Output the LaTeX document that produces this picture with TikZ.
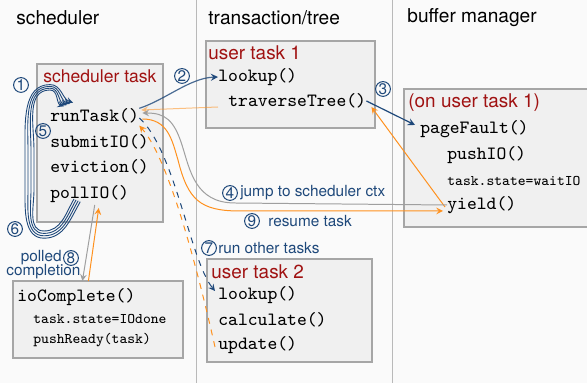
\documentclass[tikz,border=0pt]{standalone}
\usepackage{fontspec}
\setmainfont{TeX Gyre Heros}
\usepackage{tikz}
\usepackage{xcolor}
\usetikzlibrary{arrows, positioning, calc}
\definecolor{schedblue}{RGB}{30,72,122}
\definecolor{taskred}{RGB}{160,18,18}
\definecolor{resumeorange}{RGB}{255,145,30}

\begin{document}
\begin{tikzpicture}[x=0.5bp,y=-0.5bp,
  hdr/.style={anchor=west,inner sep=0,font=\fontsize{9.6}{11}\selectfont},
  title/.style={anchor=west,inner sep=0,text=taskred,font=\fontsize{9.5}{11}\selectfont},
  code/.style={anchor=west,inner sep=0,font=\fontsize{9.4}{11}\ttfamily},
  smallcode/.style={anchor=west,inner sep=0,font=\fontsize{7.4}{9}\ttfamily},
  lbl/.style={inner sep=0,text=schedblue,font=\fontsize{7.7}{9}\selectfont},
  num/.style={circle,draw=schedblue,text=schedblue,inner sep=0,minimum size=7.4bp,line width=0.5pt,font=\fontsize{7.7}{9}\selectfont},
  box/.style={draw=gray!70,fill=gray!12,line width=0.6pt},
  bluearr/.style={-stealth,draw=schedblue,line width=0.6pt},
  orangearr/.style={-stealth,draw=resumeorange,line width=0.5pt},
  grayarr/.style={-stealth,draw=gray!75,line width=0.5pt}]
\fill[gray!4] (0,0) rectangle (587,383);
\useasboundingbox (0,0) rectangle (587,383);
% columns
\draw[gray!55,line width=0.5pt] (196,0) -- (196,383) (392,0) -- (392,383);
\node[hdr] (schedhdr) at (16,18) {scheduler};
\node[hdr] (treehdr) at (208,18) {transaction/tree};
\node[hdr] (bufhdr) at (407,18) {buffer manager};

% boxes
\draw[box] (37,64) rectangle (163,222);
\draw[box] (206,41) rectangle (375,128);
\draw[box] (404,89) rectangle (592,227);
\draw[box] (13,281) rectangle (183,358);
\draw[box] (207,259) rectangle (372,362);

\node[title,font=\fontsize{8.8}{10}\selectfont] (schedtitle) at (43,76) {scheduler task};
\node[code] (runtask) at (50,116) {runTask()};
\node[code] (submitio) at (50,142) {submitIO()};
\node[code] (eviction) at (50,167) {eviction()};
\node[code] (pollio) at (50,194) {pollIO()};

\node[title] (taskonetitle) at (208,53) {user task 1};
\node[code] (lookupone) at (218,77) {lookup()};
\node[code] (traverse) at (228,101) {traverseTree()};

\node[title] (buftitle) at (408,103) {(on user task 1)};
\node[code] (pagefault) at (420,129) {pageFault()};
\node[code] (pushio) at (447,155) {pushIO()};
\node[smallcode] (waitio) at (447,181) {task.state=waitIO};
\node[code] (yield) at (447,205) {yield()};

\node[code] (iocomplete) at (17,297) {ioComplete()};
\node[smallcode] (iodone) at (33,319) {task.state=IOdone};
\node[smallcode] (pushready) at (33,340) {pushReady(task)};

\node[title] (tasktwotitle) at (211,272) {user task 2};
\node[code] (lookuptwo) at (218,295) {lookup()};
\node[code] (calculate) at (218,320) {calculate()};
\node[code] (update) at (218,345) {update()};

% step labels
\node[num] (one) at (21,85) {1};
\node[num] (two) at (182,76) {2};
\node[num] (three) at (383,89) {3};
\node[num] (four) at (230,193) {4};
\node[lbl,right=1bp of four] (fourlbl) {jump to scheduler ctx};
\node[num] (five) at (43,131) {5};
\node[num] (six) at (15,229) {6};
\node[num] (seven) at (209,248) {7};
\node[lbl,right=0.5bp of seven] (sevenlbl) {run other tasks};
\node[num] (eight) at (71,258) {8};
\node[lbl,left=0.5bp of eight] (polledlbl) {polled};
\node[lbl,anchor=west] (completionlbl) at (6,272) {completion};
\node[num] (nine) at (252,221) {9};
\node[lbl,right=4bp of nine] (ninelbl) {resume task};

% scheduler loop
\foreach \d in {0,...,3} {
    \pgfmathsetmacro\a{\d*3}
    \draw[bluearr,line width=0.45pt] ($(pollio.south west)+(24+0.7*\a,-4+0.3*\a)$)
        to[out=240,in=0] (44,231+0.8*\a) to[out=180,in=270] (34-\a,190)
        -- (34-\a,150) to[out=90,in=180] (50,90-0.6*\a)
        to[out=0,in=160] ($(runtask.north west)+(14+\a,-2-0.4*\a)$);
}

% task switches
\draw[bluearr,draw opacity=0.8] (runtask.north east) .. controls (165,100) and (190,78) .. (lookupone.west);
\draw[orangearr,opacity=0.55] ($(traverse.west)+(-10,6)$) -- ($(runtask.east)+(2,-6)$);
\draw[bluearr] (traverse.east) -- ($(pagefault.west)+(-5,-4)$);
\draw[orangearr] ($(yield.west)+(-2,2)$) -- ($(traverse.east)+(5,6)$);
\draw[grayarr] (yield.west) -- (235,203) .. controls (195,203) and (190,170) .. (182,145)
    .. controls (174,120) and (165,113) .. ($(runtask.east)+(3,-3)$);
\draw[orangearr] ($(runtask.east)+(3,3)$) .. controls (168,119) and (172,140) .. (178,160)
    .. controls (188,200) and (200,211) .. (240,211) -- ($(yield.west)+(-4,6)$);
\draw[bluearr,dashed,line width=0.5pt] ($(runtask.east)+(0,2)$) .. controls (175,150) and (190,260) .. ($(lookuptwo.west)+(-3,-4)$);
\draw[orangearr,dashed] ($(update.west)+(-3,2)$) .. controls (200,280) and (170,160) .. ($(runtask.south east)+(0,2)$);

% io completion
\draw[grayarr] ($(pollio.south)+(5,2)$) -- ($(iocomplete.north)+(6,-7)$);
\draw[orangearr] ($(iocomplete.north)+(12,-7)$) -- ($(pollio.south)+(9,5)$);
\end{tikzpicture}
\end{document}
